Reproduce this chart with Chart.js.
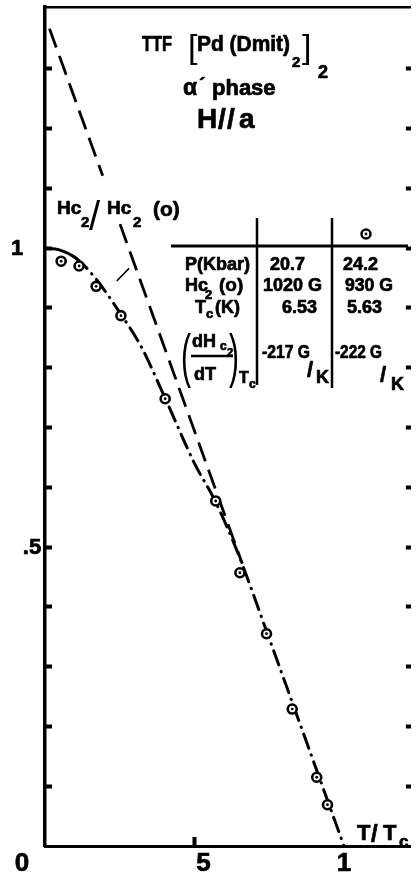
<!DOCTYPE html>
<html>
<head>
<meta charset="utf-8">
<script src="https://cdn.jsdelivr.net/npm/chart.js@4.4.1/dist/chart.umd.min.js"></script>
<style>
  html, body { margin: 0; padding: 0; background: #fff; overflow: hidden; }
  canvas { display: block; }
</style>
</head>
<body>
<canvas id="hc2" width="418" height="876"></canvas>
<script>
// Hc2/Hc2(0) vs T/Tc, TTF[Pd(dmit)2]2 alpha' phase, H // a

// measured points (circles)
const pointsT = [0.054, 0.114, 0.171, 0.254, 0.402, 0.571, 0.652, 0.741, 0.827, 0.909, 0.945];
const pointsH = [0.978, 0.970, 0.936, 0.887, 0.748, 0.577, 0.457, 0.355, 0.229, 0.115, 0.069];

// dash-dot guide curve through the points
const curveT = [0, 0.048, 0.104, 0.163, 0.253, 0.322, 0.401, 0.500, 0.569, 0.642, 0.750, 0.900, 1.0];
const curveH = [1.0, 0.997, 0.983, 0.953, 0.890, 0.835, 0.750, 0.640, 0.577, 0.494, 0.347, 0.139, 0];

// initial slope line (dashed), broken where the axis name sits on it
const slopeT = [0.015, 0.193, 0.22, 0.251, 0.66];
const slopeH = [1.367, 1.121, null, 1.040, 0.472];

// little leader stroke next to the curve
const leaderT = [0.240, 0.281];
const leaderH = [0.945, 0.966];

// axes
const xTickValues = [0.5];
const yTickValues = [0.1, 0.2, 0.3, 0.4, 0.5, 0.6, 0.7, 0.8, 0.9, 1.0, 1.1, 1.2, 1.3];
const xLabelValues = [0, 0.5, 1];
const xTickLabels = ['0', '5', '1'];
const yLabelValues = [1, 0.5];
const yTickLabels = ['1', '.5'];

// table in the plot
const tableRows = ['P(Kbar)', 'Hc2 (o)', 'Tc(K)', '(dHc2/dT)Tc'];
const col1 = ['20.7', '1020 G', '6.53', '-217 G'];
const col2 = ['24.2', '930 G', '5.63', '-222 G'];

const pts = (xs, ys) => xs.map((v, i) => ({ x: v, y: ys[i] }));

const FONT = '"Liberation Sans", Arial, sans-serif';

// hand lettering is heavy, so bold text gets a thin outline too
function put(ctx, s, px, py, size, opt = {}) {
  ctx.save();
  const w = opt.w || 'bold';
  ctx.font = `${w} ${size}px ${FONT}`;
  ctx.textAlign = opt.align || 'left';
  ctx.textBaseline = 'alphabetic';
  ctx.translate(px, py);
  if (opt.sy) ctx.scale(1, opt.sy);
  const m = opt.max;
  if (m) ctx.fillText(s, 0, 0, m); else ctx.fillText(s, 0, 0);
  if (w === 'bold') {
    ctx.lineWidth = 0.7;
    ctx.lineJoin = 'round';
    if (m) ctx.strokeText(s, 0, 0, m); else ctx.strokeText(s, 0, 0);
  }
  ctx.restore();
}

function line(ctx, x1, y1, x2, y2, w) {
  ctx.beginPath();
  ctx.lineWidth = w;
  ctx.moveTo(x1, y1);
  ctx.lineTo(x2, y2);
  ctx.stroke();
}

const paperText = {
  id: 'paperText',
  afterDraw(chart) {
    const ctx = chart.ctx;
    const xs = chart.scales.x, ys = chart.scales.y;
    ctx.save();
    ctx.fillStyle = '#000';
    ctx.strokeStyle = '#000';

    // tick labels
    const xOff = [-23, 9, 0];
    xLabelValues.forEach((v, i) => put(ctx, xTickLabels[i], xs.getPixelForValue(v) + xOff[i], 871, 26, { align: 'center' }));
    const yX = [17, 32];
    yLabelValues.forEach((v, i) => put(ctx, yTickLabels[i], yX[i], ys.getPixelForValue(v) + 7, 22, { align: 'center' }));

    // axis names
    put(ctx, 'T', 357, 840, 22);
    put(ctx, '/', 371, 842, 24);
    put(ctx, 'T', 383, 840, 22);
    put(ctx, 'c', 399, 847, 17);

    put(ctx, 'Hc', 57, 214, 19);
    put(ctx, '2', 81, 227, 15);
    put(ctx, '/', 89, 230, 40, { w: 'normal' });
    put(ctx, 'Hc', 107, 214, 19);
    put(ctx, '2', 133, 227, 15);
    put(ctx, '(o)', 153, 216, 21);

    // title
    put(ctx, 'TTF', 142, 51, 22, { max: 30 });
    put(ctx, '[', 188, 58, 34, { w: 'normal' });
    put(ctx, 'Pd (Dmit)', 197, 51, 22, { max: 93 });
    put(ctx, '2', 292, 67, 15);
    put(ctx, ']', 302, 58, 34, { w: 'normal' });
    put(ctx, '2', 318, 78, 18);
    put(ctx, '\u03b1', 183, 95, 23);
    put(ctx, '\u00b4', 199, 92, 20);
    put(ctx, 'phase', 212, 95, 22, { max: 64 });
    put(ctx, 'H', 197, 128, 28);
    put(ctx, '/', 218, 128, 28);
    put(ctx, '/', 227, 128, 28);
    put(ctx, 'a', 239, 128, 28);

    // table frame
    ctx.lineCap = 'butt';
    line(ctx, 171, 246, 408, 246, 3);
    line(ctx, 257, 218, 257, 385, 2.5);
    line(ctx, 332, 218, 332, 388, 2.5);
    ctx.beginPath();
    ctx.lineWidth = 2.5;
    ctx.arc(366, 234, 4.5, 0, Math.PI * 2);
    ctx.stroke();
    ctx.beginPath();
    ctx.arc(366, 234, 1.4, 0, Math.PI * 2);
    ctx.fill();

    // row labels
    put(ctx, tableRows[0], 185, 270, 18, { max: 68 });
    put(ctx, 'Hc', 185, 291, 18);
    put(ctx, '2', 205, 299, 13);
    put(ctx, '(o)', 219, 291, 19);
    put(ctx, 'T', 195, 313, 18);
    put(ctx, 'c', 206, 318, 13);
    put(ctx, '(K)', 215, 313, 18);
    put(ctx, '(', 181, 376, 30, { w: 'normal', sy: 2 });
    put(ctx, 'dH', 192, 347, 18);
    put(ctx, 'c', 220, 350, 12);
    put(ctx, '2', 227, 356, 11);
    line(ctx, 191, 356, 233, 356, 2.5);
    put(ctx, 'dT', 194, 380, 18);
    put(ctx, ')', 229, 376, 30, { w: 'normal', sy: 2 });
    put(ctx, 'T', 239, 383, 16);
    put(ctx, 'c', 249, 388, 12);

    // values
    put(ctx, col1[0], 270, 270, 18);
    put(ctx, col2[0], 343, 270, 18);
    put(ctx, col1[1], 263, 291, 18, { max: 59 });
    put(ctx, col2[1], 345, 291, 18, { max: 48 });
    put(ctx, col1[2], 282, 313, 18);
    put(ctx, col2[2], 347, 313, 18);
    put(ctx, col1[3], 262, 358, 18, { max: 48 });
    put(ctx, '/', 307, 377, 22);
    put(ctx, 'K', 316, 383, 18);
    put(ctx, col2[3], 335, 358, 18, { max: 47 });
    put(ctx, '/', 380, 382, 22);
    put(ctx, 'K', 391, 390, 18);

    ctx.restore();
  }
};

const tickAxis = (len, width) => ({
  display: true,
  drawOnChartArea: false,
  drawTicks: true,
  tickLength: len,
  tickWidth: width,
  tickColor: '#000'
});

new Chart(document.getElementById('hc2'), {
  type: 'scatter',
  data: {
    datasets: [
      {
        // dot in the middle of each circle
        data: pts(pointsT, pointsH),
        showLine: false,
        pointRadius: 1.4,
        pointBorderWidth: 0,
        pointBackgroundColor: '#000'
      },
      {
        data: pts(pointsT, pointsH),
        showLine: false,
        pointRadius: 4.5,
        pointBorderWidth: 2.6,
        pointBorderColor: '#000',
        pointBackgroundColor: '#fff'
      },
      {
        data: pts(curveT, curveH),
        showLine: true,
        pointRadius: 0,
        borderColor: '#000',
        borderWidth: 3,
        borderCapStyle: 'round',
        tension: 0.4,
        cubicInterpolationMode: 'monotone',
        segment: {
          borderDash: c => c.p0DataIndex < 2 ? [] : [15, 7, 0.5, 7]
        }
      },
      {
        data: pts(slopeT, slopeH),
        showLine: true,
        spanGaps: false,
        pointRadius: 0,
        borderColor: '#000',
        borderWidth: 2.8,
        borderDash: [20, 9]
      },
      {
        data: pts(leaderT, leaderH),
        showLine: true,
        pointRadius: 0,
        borderColor: '#000',
        borderWidth: 1.5
      }
    ]
  },
  options: {
    responsive: false,
    animation: false,
    devicePixelRatio: 1,
    layout: { padding: { left: 45, top: 4, right: 2, bottom: 30 } },
    plugins: { legend: { display: false }, tooltip: { enabled: false } },
    scales: {
      x: {
        type: 'linear', position: 'bottom', min: 0, max: 1.224,
        afterBuildTicks: s => { s.ticks = xTickValues.map(v => ({ value: v })); },
        afterFit: s => { s.height = 0; },
        ticks: { display: false },
        grid: tickAxis(-9, 4),
        border: { display: true, color: '#000', width: 3 }
      },
      x2: {
        type: 'linear', position: 'top', min: 0, max: 1.224,
        afterFit: s => { s.height = 0; },
        ticks: { display: false },
        grid: { display: false },
        border: { display: true, color: '#000', width: 2.5 }
      },
      y: {
        type: 'linear', position: 'left', min: 0, max: 1.403,
        afterBuildTicks: s => { s.ticks = yTickValues.map(v => ({ value: v })); },
        afterFit: s => { s.width = 0; },
        ticks: { display: false },
        grid: tickAxis(-7, 4),
        border: { display: true, color: '#000', width: 3.5 }
      },
      y2: {
        type: 'linear', position: 'right', min: 0, max: 1.403,
        afterBuildTicks: s => { s.ticks = yTickValues.map(v => ({ value: v })); },
        afterFit: s => { s.width = 0; },
        ticks: { display: false },
        grid: tickAxis(-5, 4),
        border: { display: false }
      }
    }
  },
  plugins: [paperText]
});
</script>
</body>
</html>
